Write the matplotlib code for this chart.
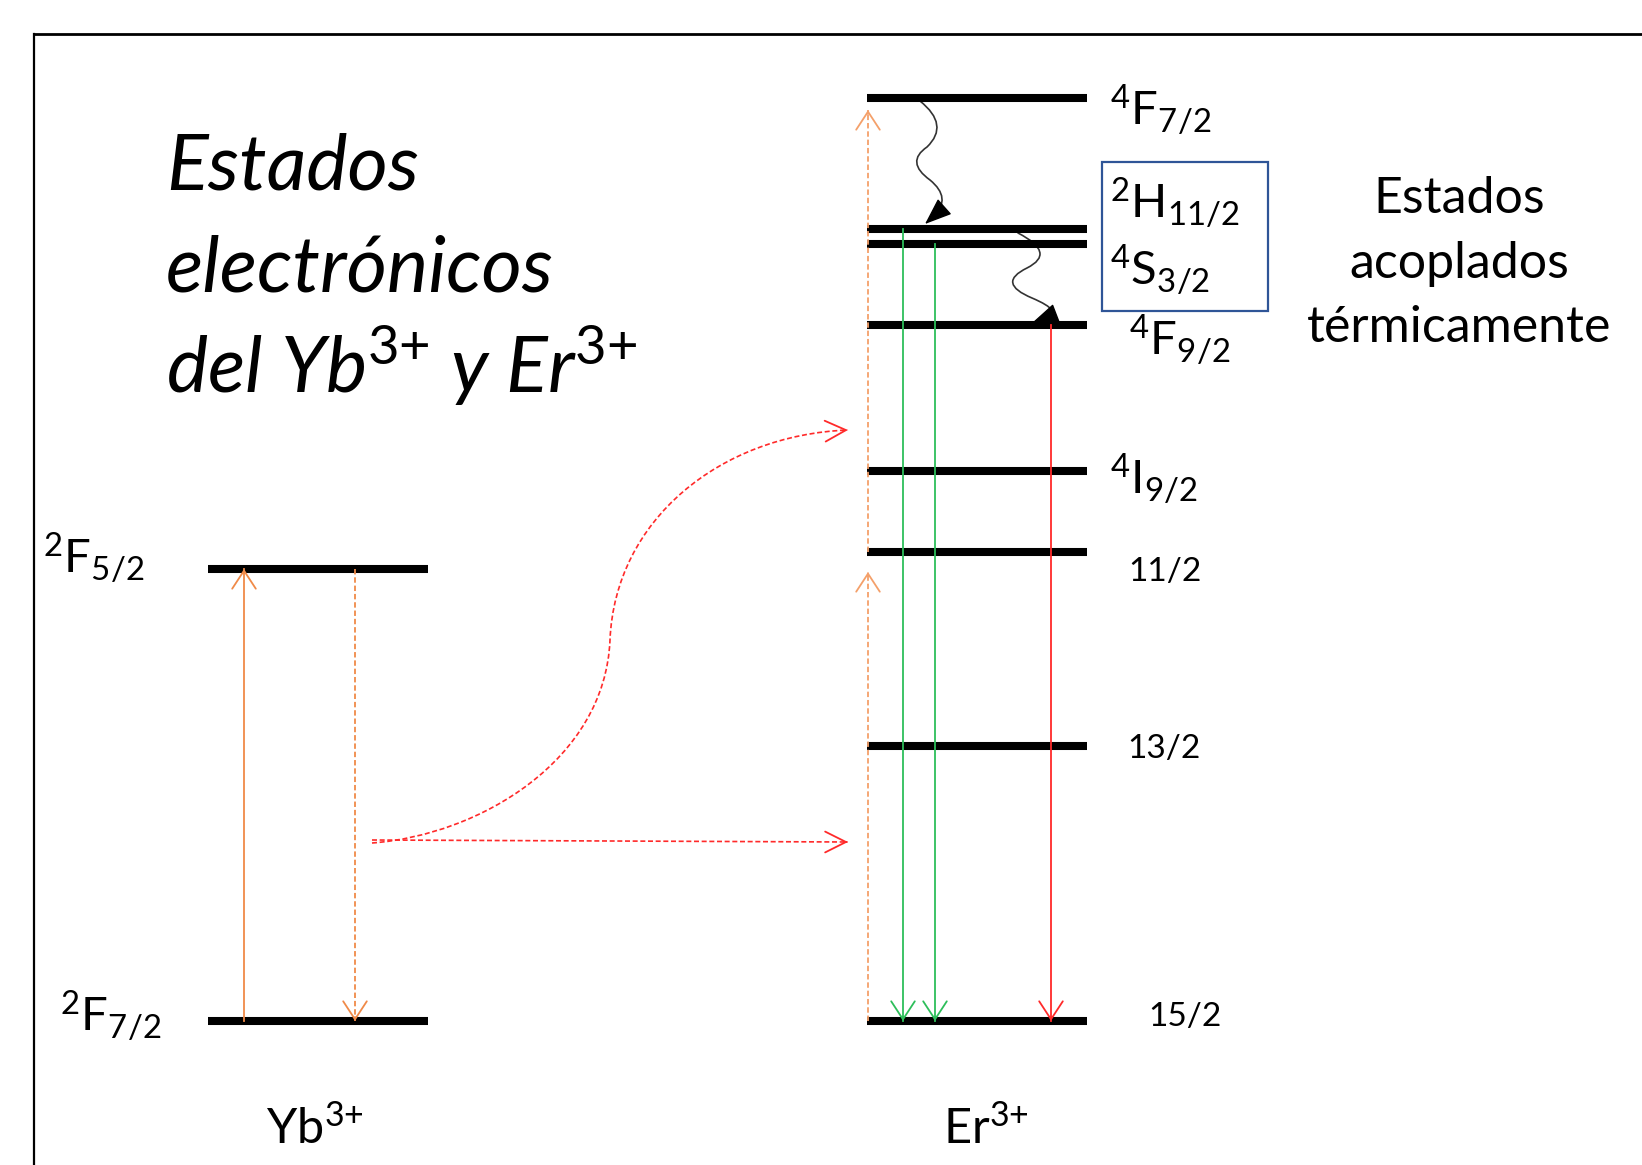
"""Energy level diagram: Yb3+ -> Er3+ upconversion (thermally coupled states)."""
import matplotlib
matplotlib.use("Agg")
import matplotlib.pyplot as plt
from matplotlib.path import Path
from matplotlib.patches import PathPatch, Rectangle

plt.rcParams['font.family'] = ['Lato', 'DejaVu Sans']
plt.rcParams['mathtext.fontset'] = 'custom'
plt.rcParams['mathtext.rm'] = 'Lato'
plt.rcParams['mathtext.it'] = 'Lato:italic'
plt.rcParams['mathtext.default'] = 'rm'

# ---- data (diagram units = image pixels, y grows downward) ----
YB_SPAN = (208, 428)
YB_LEVELS = [569, 1021]
YB_LABELS = [r'$^{2}$F$_{5/2}$', r'$^{2}$F$_{7/2}$']

ER_SPAN = (867, 1087)
ER_LEVELS = [98, 229, 244, 325, 471, 552, 746, 1021]
ER_LABELS = [r'$^{4}$F$_{7/2}$', r'$^{2}$H$_{11/2}$', r'$^{4}$S$_{3/2}$',
             r'$^{4}$F$_{9/2}$', r'$^{4}$I$_{9/2}$', '11/2', '13/2', '15/2']

TITLE_LINES = ['Estados', 'electrónicos',
               r'del Yb$^{\mathit{3{+}}}$ y Er$^{\mathit{3{+}}}$']
NOTE_LINES = ['Estados', 'acoplados', 'térmicamente']
ION_LABELS = [r'Yb$^{3{+}}$', r'Er$^{3{+}}$']

# transitions: (x, y_from, y_to)
YB_ABS = (244, 1021, 569)
YB_EMI = (355, 569, 1021)
ER_PUMP = [(868, 1021, 572), (868, 552, 110)]
ER_GREEN = [(903, 229, 1021), (935, 244, 1021)]
ER_RED = [(1051, 325, 1021)]

# wavy non-radiative relaxations (quadratic bezier: start, then ctrl/anchor pairs)
WAVY_1 = [(920, 101), (950, 125), (927, 147), (905, 162), (930, 180),
          (952, 198), (934, 216)]
WAVY_1_TIP = (925, 224)
WAVY_2 = [(1018, 233), (1057, 253), (1027, 268), (996, 283), (1032, 298),
          (1065, 312), (1045, 318)]
WAVY_2_TIP = (1032, 323)

# energy transfer Yb -> Er (cubic bezier nodes)
ET_STRAIGHT = [(372, 840), (848, 842)]
ET_CURVE = [(372, 843), (480, 835), (605, 760), (610, 640),
            (615, 520), (720, 435), (848, 430)]

ORANGE = '#F08A48'
ORANGE_D = '#F4A06A'
GREEN = '#2DBE5A'
RED = '#FF2A2A'
BLUE = '#2F5597'

# ---- figure ----
fig = plt.figure(figsize=(16.42, 11.65), dpi=100)
ax = fig.add_axes([0, 0, 1, 1])
ax.set_xlim(0, 1642)
ax.set_ylim(1165, 0)
ax.axis('off')

# frame (runs off the right and bottom edges)
ax.plot([34, 34], [1165, 34], color='black', lw=1.6, solid_capstyle='projecting')
ax.plot([34, 1642], [34, 34], color='black', lw=2.0, solid_capstyle='projecting')


def head(tip, frm, color, filled=False, lw=1.3, hl=1.3, hw=0.85):
    style = '-|>' if filled else '->'
    ax.annotate('', xy=tip, xytext=frm,
                arrowprops=dict(arrowstyle=f'{style},head_length={hl},head_width={hw}',
                                color=color, lw=lw, shrinkA=0, shrinkB=0))


def vline_arrow(x, y0, y1, color, dashed=False):
    ls = (0, (3, 1.6)) if dashed else '-'
    ax.plot([x, x], [y0, y1], color=color, lw=1.3, ls=ls)
    d = 1 if y1 > y0 else -1
    head((x, y1), (x, y1 - d * 4), color)


# levels
for y in YB_LEVELS:
    ax.plot(YB_SPAN, [y, y], color='black', lw=5.8, solid_capstyle='butt')
for y in ER_LEVELS:
    ax.plot(ER_SPAN, [y, y], color='black', lw=5.8, solid_capstyle='butt')

# level labels
for lab, (x, y) in zip(YB_LABELS, [(43, 573), (60, 1031)]):
    ax.text(x, y, lab, fontsize=34, va='baseline', ha='left')
er_lab_pos = [(1110, 125), (1110, 218), (1110, 285), (1129, 355),
              (1110, 494), (1128, 581), (1127, 758), (1148, 1026)]
for lab, (x, y) in zip(ER_LABELS, er_lab_pos):
    fs = 34 if '$' in lab else 24
    ax.text(x, y, lab, fontsize=fs, va='baseline', ha='left')

# thermally coupled box
ax.add_patch(Rectangle((1102, 162), 166, 149, fill=False, ec=BLUE, lw=1.6))

# titles
for line, y in zip(TITLE_LINES, [189, 292, 393]):
    ax.text(166, y, line, fontsize=56, style='italic', va='baseline', ha='left')
for line, y in zip(NOTE_LINES, [213, 278, 342]):
    ax.text(1459, y, line, fontsize=36, va='baseline', ha='center')
for lab, x in zip(ION_LABELS, [315, 986]):
    ax.text(x, 1143, lab, fontsize=35, va='baseline', ha='center')

# Yb transitions
vline_arrow(YB_ABS[0], YB_ABS[1], YB_ABS[2], ORANGE)
vline_arrow(YB_EMI[0], YB_EMI[1], YB_EMI[2], ORANGE, dashed=True)

# Er transitions
for x, y0, y1 in ER_PUMP:
    vline_arrow(x, y0, y1, ORANGE_D, dashed=True)
for x, y0, y1 in ER_GREEN:
    vline_arrow(x, y0, y1, GREEN)
for x, y0, y1 in ER_RED:
    vline_arrow(x, y0, y1, RED)

# non-radiative relaxations
for pts, tip in [(WAVY_1, WAVY_1_TIP), (WAVY_2, WAVY_2_TIP)]:
    codes = [Path.MOVETO] + [Path.CURVE3] * (len(pts) - 1)
    ax.add_patch(PathPatch(Path(pts, codes), fill=False, ec='#333333', lw=1.2,
                           capstyle='round', joinstyle='round'))
    head(tip, pts[-1], 'black', filled=True, lw=1.0, hl=1.7, hw=0.65)

# energy transfer
(x0, y0), (x1, y1) = ET_STRAIGHT
ax.plot([x0, x1], [y0, y1], color=RED, lw=1.2, ls=(0, (3, 1.6)))
head((x1, y1), (x1 - 4, y1), RED, hl=1.5, hw=0.75)

codes = [Path.MOVETO] + [Path.CURVE4] * 6
ax.add_patch(PathPatch(Path(ET_CURVE, codes), fill=False, ec=RED, lw=1.2,
                       ls=(0, (3, 1.6))))
tip = ET_CURVE[-1]
head(tip, (tip[0] - 4, tip[1] + 0.2), RED, hl=1.5, hw=0.75)

fig.savefig('out.png', dpi=100)
